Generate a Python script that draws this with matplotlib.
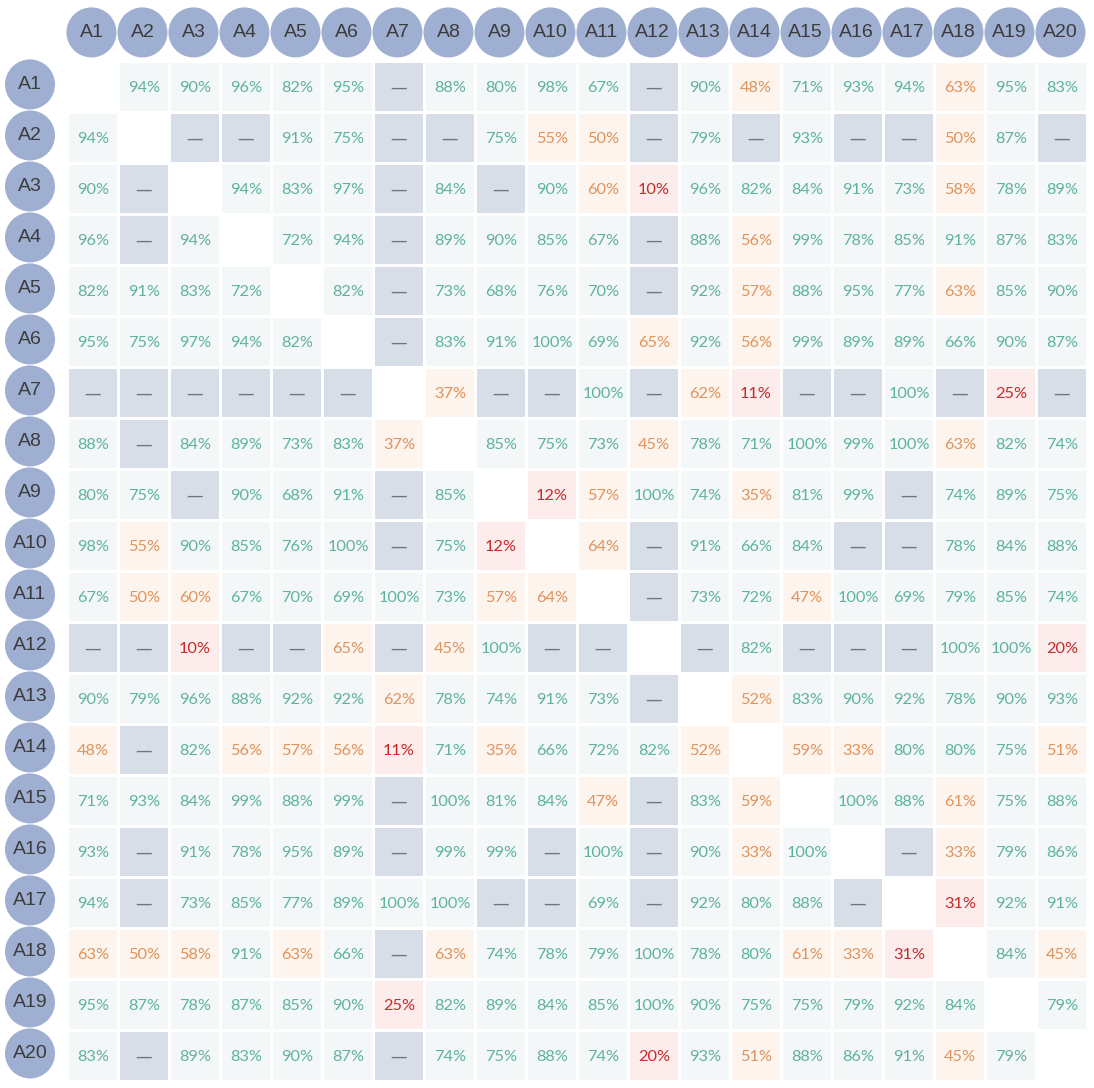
import matplotlib
matplotlib.use("Agg")
import matplotlib.pyplot as plt
from matplotlib.patches import Rectangle, Circle

# Agreement matrix between items A1..A20 (None = no data, diagonal left blank)
labels = ["A%d" % i for i in range(1, 21)]
N = None
rows = [
    [N, 94, 90, 96, 82, 95, N, 88, 80, 98, 67, N, 90, 48, 71, 93, 94, 63, 95, 83],
    [94, N, N, N, 91, 75, N, N, 75, 55, 50, N, 79, N, 93, N, N, 50, 87, N],
    [90, N, N, 94, 83, 97, N, 84, N, 90, 60, 10, 96, 82, 84, 91, 73, 58, 78, 89],
    [96, N, 94, N, 72, 94, N, 89, 90, 85, 67, N, 88, 56, 99, 78, 85, 91, 87, 83],
    [82, 91, 83, 72, N, 82, N, 73, 68, 76, 70, N, 92, 57, 88, 95, 77, 63, 85, 90],
    [95, 75, 97, 94, 82, N, N, 83, 91, 100, 69, 65, 92, 56, 99, 89, 89, 66, 90, 87],
    [N, N, N, N, N, N, N, 37, N, N, 100, N, 62, 11, N, N, 100, N, 25, N],
    [88, N, 84, 89, 73, 83, 37, N, 85, 75, 73, 45, 78, 71, 100, 99, 100, 63, 82, 74],
    [80, 75, N, 90, 68, 91, N, 85, N, 12, 57, 100, 74, 35, 81, 99, N, 74, 89, 75],
    [98, 55, 90, 85, 76, 100, N, 75, 12, N, 64, N, 91, 66, 84, N, N, 78, 84, 88],
    [67, 50, 60, 67, 70, 69, 100, 73, 57, 64, N, N, 73, 72, 47, 100, 69, 79, 85, 74],
    [N, N, 10, N, N, 65, N, 45, 100, N, N, N, N, 82, N, N, N, 100, 100, 20],
    [90, 79, 96, 88, 92, 92, 62, 78, 74, 91, 73, N, N, 52, 83, 90, 92, 78, 90, 93],
    [48, N, 82, 56, 57, 56, 11, 71, 35, 66, 72, 82, 52, N, 59, 33, 80, 80, 75, 51],
    [71, 93, 84, 99, 88, 99, N, 100, 81, 84, 47, N, 83, 59, N, 100, 88, 61, 75, 88],
    [93, N, 91, 78, 95, 89, N, 99, 99, N, 100, N, 90, 33, 100, N, N, 33, 79, 86],
    [94, N, 73, 85, 77, 89, 100, 100, N, N, 69, N, 92, 80, 88, N, N, 31, 92, 91],
    [63, 50, 58, 91, 63, 66, N, 63, 74, 78, 79, 100, 78, 80, 61, 33, 31, N, 84, 45],
    [95, 87, 78, 87, 85, 90, 25, 82, 89, 84, 85, 100, 90, 75, 75, 79, 92, 84, N, 79],
    [83, N, 89, 83, 90, 87, N, 74, 75, 88, 74, 20, 93, 51, 88, 86, 91, 45, 79, N],
]

# colour bands: (lower bound, text colour, background)
bands = [
    (66, "#5fb39e", "#f3f7f8"),
    (32, "#e0935a", "#fdf4ee"),
    (0, "#c62a2a", "#fcecec"),
]
missing_bg = "#d8dee8"
missing_fg = "#6b7682"
circle_col = "#9eafd1"

fig = plt.figure(figsize=(10.94, 10.88), dpi=100)
ax = fig.add_axes([0, 0, 1, 1])
n = len(labels)
px = 51.0  # pixels per cell step
x0 = -93 / px
y0 = -87 / px
ax.set_xlim(x0, x0 + 1094 / px)
ax.set_ylim(y0 + 1088 / px, y0)
ax.axis("off")

cell = 48 / px
font = ["Lato", "DejaVu Sans"]

for i in range(n):
    for j in range(n):
        if i == j:
            continue
        v = rows[i][j]
        if v is None:
            ax.add_patch(Rectangle((j - cell / 2, i - cell / 2), cell, cell,
                                   facecolor=missing_bg, edgecolor="none"))
            ax.text(j, i + 0.02, "\u2014", ha="center", va="center",
                    color=missing_fg, fontsize=12, family="DejaVu Sans")
            continue
        for lo, fg, bg in bands:
            if v >= lo:
                break
        ax.add_patch(Rectangle((j - cell / 2, i - cell / 2), cell, cell,
                               facecolor=bg, edgecolor="none"))
        ax.text(j, i + 0.02, "%d%%" % v, ha="center", va="center", color=fg,
                fontsize=11.8, family=font)

r = 25 / px
hfont = ["Liberation Sans", "DejaVu Sans"]
for k, lab in enumerate(labels):
    # column header
    ax.add_patch(Circle((k - 0.03, -1.07), r, facecolor=circle_col, edgecolor="none"))
    ax.text(k - 0.03, -1.07, lab, ha="center", va="center", color="#3c3c3c",
            fontsize=14, family=hfont)
    # row header
    ax.add_patch(Circle((-1.235, k - 0.05), r, facecolor=circle_col, edgecolor="none"))
    ax.text(-1.235, k - 0.05, lab, ha="center", va="center", color="#3c3c3c",
            fontsize=14, family=hfont)

fig.savefig("out.png", dpi=100, facecolor="white")
